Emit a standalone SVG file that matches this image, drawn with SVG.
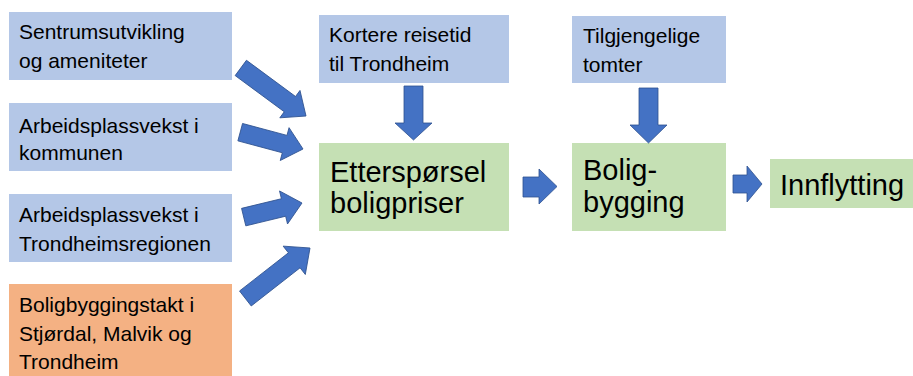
<svg xmlns="http://www.w3.org/2000/svg" width="913" height="376" viewBox="0 0 913 376">
<style>
.blue{fill:#B4C7E7}
.green{fill:#C5E0B4}
.orange{fill:#F4B183}
.t{font-family:"Liberation Sans",Arial,sans-serif;font-size:21px;fill:#000}
.big{font-family:"Liberation Sans",Arial,sans-serif;font-size:29px;fill:#000}
.arr{fill:#4472C4;stroke:#2F528F;stroke-width:0.8}
</style>
<defs>
<path id="diag" d="M0,-9.5 L-20,-9.5 L-20,-17 L0,0 L-20,17 L-20,9.5 Z"/>
</defs>
<rect width="913" height="376" fill="#fff"/>
<g id="n-sentrum"><rect class="blue" x="9" y="12" width="223" height="68"/><text class="t" x="19" y="39">Sentrumsutvikling</text><text class="t" x="19" y="68">og ameniteter</text></g>
<g id="n-kommunen"><rect class="blue" x="9" y="103" width="223" height="68"/><text class="t" x="19" y="133">Arbeidsplassvekst i</text><text class="t" x="19" y="160">kommunen</text></g>
<g id="n-region"><rect class="blue" x="9" y="194" width="223" height="68"/><text class="t" x="19" y="222">Arbeidsplassvekst i</text><text class="t" x="19" y="251">Trondheimsregionen</text></g>
<g id="n-boligtakt"><rect class="orange" x="9" y="284" width="223" height="92"/><text class="t" x="19" y="312">Boligbyggingstakt i</text><text class="t" x="19" y="341">Stjørdal, Malvik og</text><text class="t" x="19" y="369">Trondheim</text></g>
<g id="n-reisetid"><rect class="blue" x="319" y="15" width="190" height="68"/><text class="t" x="329" y="42">Kortere reisetid</text><text class="t" x="329" y="71">til Trondheim</text></g>
<g id="n-tomter"><rect class="blue" x="572" y="16" width="154" height="67"/><text class="t" x="583" y="43">Tilgjengelige</text><text class="t" x="583" y="72">tomter</text></g>
<g id="n-ettersporsel"><rect class="green" x="319" y="143" width="190" height="88"/><text class="big" x="330" y="182">Etterspørsel</text><text class="big" x="330" y="213">boligpriser</text></g>
<g id="n-boligbygging"><rect class="green" x="572" y="143" width="154" height="88"/><text class="big" x="583" y="180">Bolig-</text><text class="big" x="583" y="212">bygging</text></g>
<g id="n-innflytting"><rect class="green" x="770" y="159" width="143" height="49"/><text class="big" x="780" y="195">Innflytting</text></g>
<g id="connectors">
<path class="arr" transform="translate(306,116) rotate(36.4)" d="M-81,-9.5 L-20,-9.5 L-20,-17 L0,0 L-20,17 L-20,9.5 L-81,9.5 Z"/>
<path class="arr" transform="translate(303,149) rotate(15)" d="M-65,-9 L-19,-9 L-19,-17 L0,0 L-19,17 L-19,9 L-65,9 Z"/>
<path class="arr" transform="translate(302,203) rotate(-13.6)" d="M-60,-9 L-19,-9 L-19,-17 L0,0 L-19,17 L-19,9 L-60,9 Z"/>
<path class="arr" transform="translate(310,248) rotate(-38)" d="M-82,-9.5 L-20,-9.5 L-20,-18 L0,0 L-20,18 L-20,9.5 L-82,9.5 Z"/>
<path class="arr" d="M404,86 L423,86 L423,123 L432,123 L413.5,140 L395,123 L404,123 Z"/>
<path class="arr" d="M639,88 L658,88 L658,125 L667,125 L648.5,143 L630,125 L639,125 Z"/>
<path class="arr" d="M523,177 L539,177 L539,169 L557,186.5 L539,204 L539,197 L523,197 Z"/>
<path class="arr" d="M733,175 L747,175 L747,166 L762,184 L747,202 L747,193 L733,193 Z"/>
</g>
</svg>
